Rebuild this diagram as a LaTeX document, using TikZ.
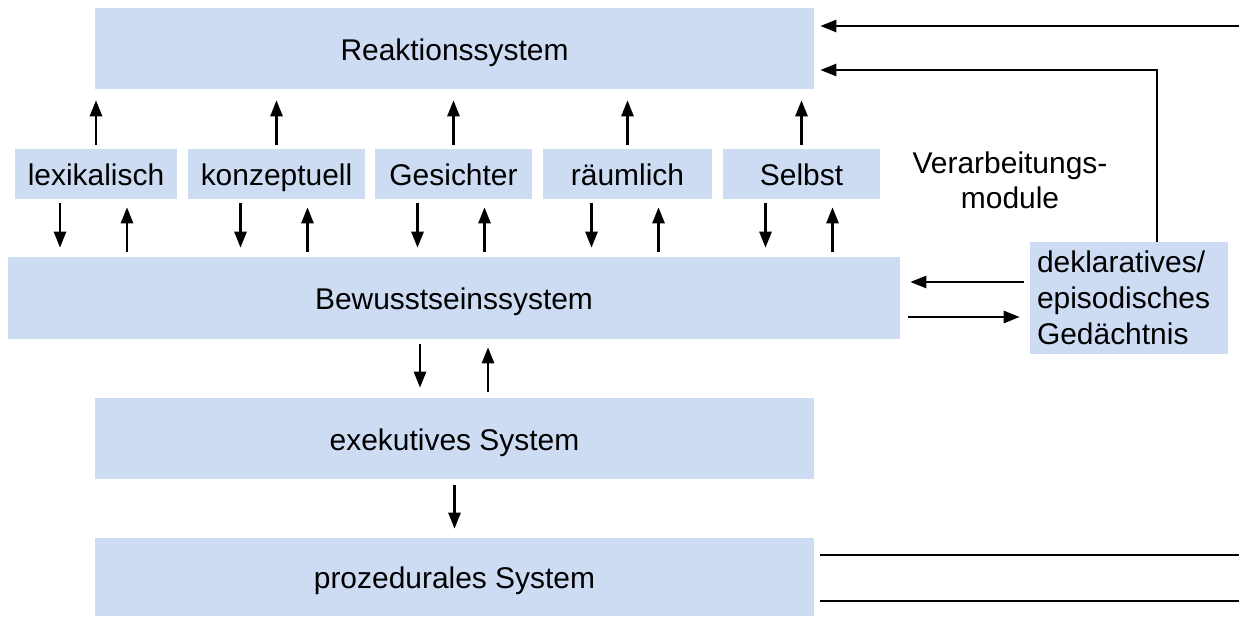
\documentclass[tikz,border=0pt]{standalone}
\usepackage{fontspec}
\setmainfont{Liberation Sans}
\usetikzlibrary{arrows.meta}
\definecolor{boxblue}{RGB}{205,220,243}
\tikzset{
  sysbox/.style={fill=boxblue, draw=none, inner sep=0pt, font=\fontsize{21.3}{25.6}\selectfont},
  onebox/.style={sysbox, text height=20.6pt, text depth=4pt},
  arr/.style={-{Triangle[length=0.4cm,width=0.3cm]}, line width=1.8pt},
  plainline/.style={line width=1.8pt}
}
\begin{document}
\begin{tikzpicture}
\useasboundingbox (0,0) rectangle (30.975,15.4);
\node[onebox,minimum width=17.975cm,minimum height=2.025cm] (reak) at (11.3625,14.1875) {Reaktionssystem};

\node[onebox,minimum width=4.05cm,minimum height=1.25cm] (lex) at (2.4,11.05) {lexikalisch};
\node[onebox,minimum width=4.425cm,minimum height=1.25cm] (konz) at (6.9125,11.05) {konzeptuell};
\node[onebox,minimum width=3.925cm,minimum height=1.25cm] (ges) at (11.3375,11.05) {Gesichter};
\node[onebox,minimum width=4.225cm,minimum height=1.25cm] (raum) at (15.6875,11.05) {räumlich};
\node[onebox,minimum width=3.925cm,minimum height=1.25cm] (selbst) at (20.0375,11.05) {Selbst};
\node[font=\fontsize{21.3}{24.9}\selectfont,align=center,inner sep=0pt] (vmod) at (25.25,10.9) {Verarbeitungs-\\module};

\node[onebox,minimum width=22.3cm,minimum height=2.05cm] (bew) at (11.35,7.95) {Bewusstseinssystem};
\node[sysbox,minimum width=4.95cm,minimum height=2.8cm,text width=4.6cm,align=left] (dekl) at (28.225,7.95) {deklaratives/\\episodisches\\Gedächtnis};
\node[onebox,minimum width=17.975cm,minimum height=2.025cm] (exek) at (11.3625,4.4375) {exekutives System};
\node[onebox,minimum width=17.975cm,minimum height=1.95cm] (proz) at (11.3625,0.975) {prozedurales System};

% Module nach oben und unten
\foreach \m in {lex,konz,ges,raum,selbst} {
  \draw[arr,shorten <=0.1cm,shorten >=0.275cm] (\m.north) -- (\m.north |- reak.south);
  \draw[arr,shorten <=0.1cm,shorten >=0.225cm] ([xshift=-0.9cm]\m.south) -- ([xshift=-0.9cm]\m.south |- bew.north);
  \draw[arr,shorten <=0.125cm,shorten >=0.2cm] ([xshift=0.775cm]\m.south |- bew.north) -- ([xshift=0.775cm]\m.south);
}

\draw[arr,shorten <=0.125cm,shorten >=0.25cm] ([xshift=-0.85cm]bew.south) -- ([xshift=-0.85cm]bew.south |- exek.north);
\draw[arr,shorten <=0.15cm,shorten >=0.2cm] ([xshift=0.85cm]bew.south |- exek.north) -- ([xshift=0.85cm]bew.south);
\draw[arr,shorten <=0.15cm,shorten >=0.225cm] (exek.south) -- (proz.north);

% rechte Seite
\coordinate (inTop) at (30.975,14.75);
\draw[arr,shorten >=0.15cm] (inTop) -- (inTop -| reak.east);
\draw[arr,shorten >=0.15cm] ([xshift=0.7cm]dekl.north) |- ([yshift=-0.5375cm]reak.east);
\draw[arr,shorten <=0.15cm,shorten >=0.25cm] ([yshift=0.4cm]dekl.west) -- ([yshift=0.4cm]dekl.west -| bew.east);
\draw[arr,shorten <=0.2cm,shorten >=0.25cm] ([yshift=-0.475cm]bew.east) -- ([yshift=-0.475cm]bew.east -| dekl.west);

\coordinate (outA) at (30.975,1.525);
\coordinate (outB) at (30.975,0.375);
\draw[plainline,shorten <=0.15cm] (outA -| proz.east) -- (outA);
\draw[plainline,shorten <=0.15cm] (outB -| proz.east) -- (outB);

\end{tikzpicture}
\end{document}
